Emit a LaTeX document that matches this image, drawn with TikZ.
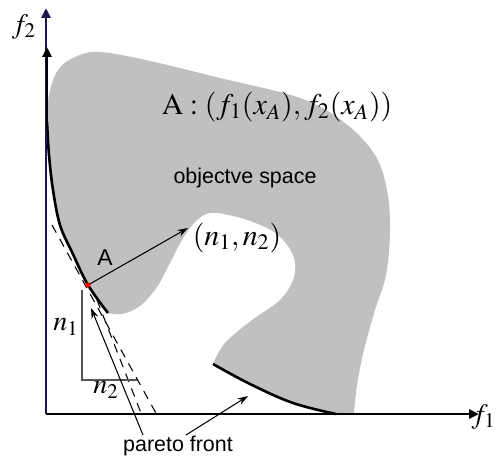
\documentclass[tikz,border=0pt]{standalone}
\usepackage{mathptmx}
\usepackage[no-math]{fontspec}
\setmainfont{Liberation Serif}
\setsansfont{Liberation Sans}
\usetikzlibrary{arrows.meta}
\definecolor{regiongray}{RGB}{192,192,192}
\definecolor{axisnavy}{RGB}{28,24,78}
\definecolor{guidegray}{RGB}{85,85,85}
\tikzset{
  axisline/.style={line width=1.4pt,-{Triangle[length=10pt*0.567,width=9pt*0.567]}},
  frontline/.style={line width=1.5pt,black},
  pointer/.style={line width=0.6pt,-{Stealth[length=6pt,width=4pt]}},
  tangent/.style={line width=0.6pt,dashed,dash pattern=on 5pt off 4pt},
  guide/.style={line width=0.7pt,guidegray},
  sanslabel/.style={font=\sffamily\fontsize{12.2}{14}\selectfont,inner sep=0pt},
  mathlabel/.style={font=\fontsize{17}{20}\selectfont,inner sep=0pt},
}
\begin{document}
\begin{tikzpicture}[x=0.02cm,y=-0.02cm]
\useasboundingbox (0,0) rectangle (497,457);
% objective space
\fill[regiongray]
  plot[smooth,tension=0.6] coordinates {(47,125) (49,95) (58,70) (75,57) (100,52) (150,61) (220,78) (300,98) (345,123) (375,155) (387,190) (390,230) (386,275) (375,310) (364,350) (357,385) (354,414)}
  -- (336,414)
  -- plot[smooth,tension=0.6] coordinates {(336,414) (293,403) (250,384) (213,364)}
  -- plot[smooth,tension=0.6] coordinates {(213,364) (225,343) (252,320) (280,300) (294,277) (293,255) (278,235) (258,224) (233,216) (210,213) (195,222) (182,240) (170,263) (157,287) (140,306) (122,314) (108,313)}
  -- plot[smooth,tension=0.6] coordinates {(108,313) (88,285) (72,252) (60,225) (53,190) (49,155) (47,125)}
  -- cycle;
% dashed tangents
\coordinate (t1a) at (52,225);
\coordinate (t1b) at (157,415);
\coordinate (t2a) at (97,300);
\coordinate (t2b) at (141,413);
\draw[tangent] (t1a) -- (t1b);
\draw[tangent] (t2a) -- (t2b);
% pareto fronts
\draw[frontline] plot[smooth,tension=0.6] coordinates {(108,313) (88,285) (72,252) (60,225) (53,190) (49,155) (47,122)};
\draw[frontline] plot[smooth,tension=0.6] coordinates {(336,414) (293,403) (250,384) (213,364)};
% axes
\coordinate (O) at (46,414);
\coordinate (ytop) at (46,8);
\coordinate (xend) at (479,414);
\coordinate (ymid) at (47,47);
\coordinate (ystart) at (47,130);
\draw[axisline,axisnavy] (O) -- (ytop);
\draw[axisline,black] (ystart) -- (ymid);
\draw[axisline,black] (O) -- (xend);
\node[mathlabel,font=\fontsize{16}{18}\selectfont] (f2) at (24,27) {$f_2$};
\node[mathlabel,font=\fontsize{16}{18}\selectfont,anchor=east] (f1) at (496,417) {$f_1$};
% point A and normal
\coordinate (A) at (88,285);
\coordinate (n1c) at (82,290);
\coordinate (corner) at (82,380);
\coordinate (n2c) at (137,380);
\draw[guide] (n1c) -- (corner) -- (n2c);
\draw[pointer] (A) -- (188,228) coordinate (ntip);
\fill[red] (A) circle (2.6);
\node[sanslabel,font=\sffamily\fontsize{13}{15}\selectfont] (Alab) at (105,258) {A};
\node[mathlabel] (nvec) at (237,238) {$(n_1,n_2)$};
\node[mathlabel,font=\fontsize{16}{18}\selectfont] (n1) at (66,327) {$n_1$};
\node[mathlabel,font=\fontsize{16}{18}\selectfont] (n2) at (106,390) {$n_2$};
% labels
\node[mathlabel] (Adef) at (277,107) {$\mathrm{A}:(f_1(x_A),f_2(x_A))$};
\node[sanslabel] (space) at (245,178) {objectve space};
\node[sanslabel] (pf) at (178,446) {pareto front};
\coordinate (pa1) at (91,308);
\coordinate (pa2) at (248,396);
\draw[pointer] (143,435) -- (pa1);
\draw[pointer] (186,435) -- (pa2);
\end{tikzpicture}
\end{document}
